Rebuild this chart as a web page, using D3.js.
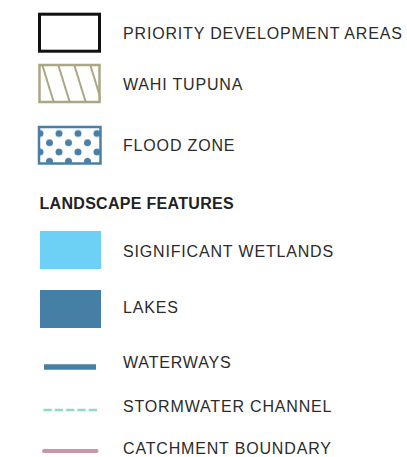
<!DOCTYPE html>
<html><head><meta charset="utf-8">
<script src="https://cdn.jsdelivr.net/npm/d3@7"></script>
<style>
html,body{margin:0;padding:0;background:#fff;}
svg{display:block;}
</style></head>
<body>
<script>
// Legend data
const labels = ["PRIORITY DEVELOPMENT AREAS","WAHI TUPUNA","FLOOD ZONE","SIGNIFICANT WETLANDS","LAKES","WATERWAYS","STORMWATER CHANNEL","CATCHMENT BOUNDARY"];
const kinds  = ["outline","hatch","dots","fill","fill","line","dash","line"];
const colors = ["#111111","#aaa784","#4a80a6","#6dd1f5","#467fa6","#467fa6","#8dd9ca","#c797a9"];
const baselines = [39, 89.5, 150.5, 256.5, 313, 368, 412, 453.5];
const heading = "LANDSCAPE FEATURES";
const headingBaseline = 209;

const W = 407, H = 457;
const svg = d3.select("body").append("svg").attr("width", W).attr("height", H);
const defs = svg.append("defs");

// dot pattern for flood zone
const pat = defs.append("pattern").attr("id","dots").attr("patternUnits","userSpaceOnUse")
  .attr("x",59).attr("y",133.5).attr("width",19).attr("height",18.5);
[[0,0],[19,0],[0,18.5],[19,18.5],[9.5,9.25]].forEach(([cx,cy]) =>
  pat.append("circle").attr("cx",cx).attr("cy",cy).attr("r",3.5).attr("fill",colors[2]));

const textX = 123;
const g = svg.append("g");

labels.forEach((lab, i) => {
  const k = kinds[i], c = colors[i], b = baselines[i];
  if (k === "outline") {
    g.append("rect").attr("x",39.5).attr("y",14.2).attr("width",60).attr("height",37)
      .attr("fill","#fff").attr("stroke",c).attr("stroke-width",3);
  } else if (k === "hatch") {
    const x0 = 38.5, y0 = 64, w = 62, h = 39;
    defs.append("clipPath").attr("id","hclip").append("rect").attr("x",x0).attr("y",y0).attr("width",w).attr("height",h);
    const hg = g.append("g").attr("clip-path","url(#hclip)");
    d3.range(-1,5).forEach(j => {
      const xt = 42 + 16*j;
      hg.append("line").attr("x1",xt).attr("y1",y0).attr("x2",xt+12).attr("y2",y0+h)
        .attr("stroke",c).attr("stroke-width",2);
    });
    g.append("rect").attr("x",x0+1).attr("y",y0+1).attr("width",w-2).attr("height",h-2)
      .attr("fill","none").attr("stroke",c).attr("stroke-width",2.5);
  } else if (k === "dots") {
    g.append("rect").attr("x",39).attr("y",127).attr("width",61.5).attr("height",36.5)
      .attr("fill","url(#dots)").attr("stroke",c).attr("stroke-width",2.5);
  } else if (k === "fill") {
    const y = i === 3 ? 231 : 290;
    g.append("rect").attr("x",40).attr("y",y).attr("width",61).attr("height",38).attr("fill",c);
  } else if (k === "line") {
    if (i === 5) {
      g.append("line").attr("x1",44).attr("x2",96).attr("y1",367).attr("y2",367)
        .attr("stroke",c).attr("stroke-width",5.5);
    } else {
      g.append("line").attr("x1",44).attr("x2",96.5).attr("y1",451).attr("y2",451)
        .attr("stroke",c).attr("stroke-width",4).attr("stroke-linecap","round");
    }
  } else if (k === "dash") {
    g.append("line").attr("x1",43.5).attr("x2",97).attr("y1",410).attr("y2",410)
      .attr("stroke",c).attr("stroke-width",2.5).attr("stroke-dasharray","8.3 3");
  }
  g.append("text").attr("x",textX).attr("y",b).text(lab)
    .attr("font-family","Liberation Sans, Arial, sans-serif").attr("font-size",16)
    .attr("letter-spacing",0.83).attr("fill","#2b2b2b");
});

g.append("text").attr("x",39.5).attr("y",headingBaseline).text(heading)
  .attr("font-family","Liberation Sans, Arial, sans-serif").attr("font-size",16)
  .attr("font-weight","bold").attr("letter-spacing",0.3).attr("fill","#222");
</script>
</body></html>
